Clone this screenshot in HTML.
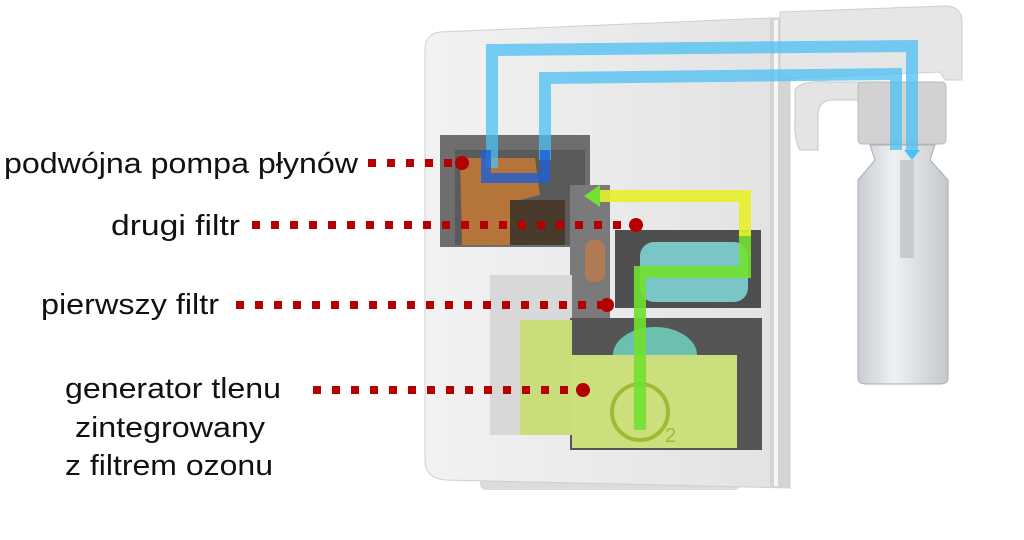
<!DOCTYPE html>
<html><head><meta charset="utf-8"><style>
html,body{margin:0;padding:0;background:#fff;}
svg{display:block;}
text{font-family:"Liberation Sans",sans-serif;fill:#111;}
</style></head><body>
<svg width="1024" height="540" viewBox="0 0 1024 540" xmlns="http://www.w3.org/2000/svg">
<defs>
<linearGradient id="body" x1="0" x2="1"><stop offset="0" stop-color="#f2f2f2"/><stop offset="1" stop-color="#e2e2e2"/></linearGradient>
<linearGradient id="bottle" x1="0" x2="1"><stop offset="0" stop-color="#c9cdd2"/><stop offset="0.4" stop-color="#eef0f2"/><stop offset="1" stop-color="#c4c8cc"/></linearGradient>
</defs>
<rect x="480" y="470" width="260" height="20" rx="6" fill="#dcdcdc"/>
<path d="M440 32 L770 18 L790 18 L790 488 L445 480 Q425 478 425 460 L425 50 Q425 34 440 32 Z" fill="url(#body)" stroke="#cfcfcf"/>
<rect x="770" y="18" width="20" height="470" fill="#d4d4d4"/>
<rect x="774" y="20" width="4" height="466" fill="#f7f7f7"/>
<path d="M780 12 L945 6 Q962 6 962 22 L962 80 L945 80 L940 72 L800 78 L780 80 Z" fill="#e6e6e6" stroke="#cfcfcf"/>
<path d="M795 90 Q800 80 830 82 L860 82 L860 100 L830 100 Q818 102 818 115 L818 150 L800 150 Q794 140 795 120 Z" fill="#e4e4e4" stroke="#c8c8c8"/>
<rect x="858" y="82" width="88" height="62" rx="4" fill="#d2d2d2" stroke="#bbb"/>
<path d="M870 145 L935 145 L930 160 L948 180 L948 378 Q948 384 940 384 L866 384 Q858 384 858 378 L858 180 L875 160 Z" fill="url(#bottle)" stroke="#a8acb0"/>
<rect x="900" y="160" width="14" height="98" fill="#c0c4c8" opacity="0.8"/>
<rect x="440" y="135" width="150" height="112" fill="#6e6e6e"/>
<rect x="455" y="150" width="130" height="95" fill="#5a5a5a"/>
<path d="M460 158 L535 158 L540 195 L520 200 L520 245 L462 245 Z" fill="#b5743a"/>
<rect x="510" y="200" width="55" height="45" fill="#4a3a2c"/>
<rect x="570" y="185" width="40" height="140" fill="#7a7a7a"/>
<rect x="585" y="240" width="20" height="42" rx="8" fill="#b07a55"/>
<rect x="615" y="230" width="146" height="78" fill="#4f4f4f"/>
<rect x="640" y="242" width="108" height="60" rx="14" fill="#7ac6c6"/>
<rect x="490" y="275" width="82" height="160" fill="#d8d8d8"/>
<rect x="570" y="318" width="192" height="132" fill="#555"/>
<ellipse cx="655" cy="355" rx="42" ry="28" fill="#6cc0b0"/>
<rect x="520" y="320" width="52" height="115" fill="#c9dd7a"/>
<rect x="572" y="355" width="165" height="93" fill="#cbe07c"/>
<circle cx="640" cy="412" r="28" fill="none" stroke="#a4b838" stroke-width="4"/>
<text x="665" y="442" font-size="20" style="fill:#a4b838">2</text>
<g fill="none" stroke="#4cc0f4" stroke-width="12" opacity="0.75" stroke-linejoin="miter">
<path d="M492 168 L492 50 L912 46 L912 150"/>
<path d="M545 160 L545 78 L896 74 L896 150"/>
</g>
<path d="M486 150 L486 178 L545 178 L545 150" fill="none" stroke="#1f5fd8" stroke-width="10" opacity="0.8"/>
<polygon points="904,150 920,150 912,160" fill="#4cc0f4"/>
<path d="M640 430 L640 272 L745 272 L745 232" fill="none" stroke="#72e030" stroke-width="12" opacity="0.9"/>
<path d="M745 236 L745 196 L598 196" fill="none" stroke="#e6f028" stroke-width="12" opacity="0.9"/>
<polygon points="600,185 600,207 584,196" fill="#72e030"/>
<g stroke="#b40000" stroke-width="8" stroke-dasharray="8 11" fill="none">
<line x1="368" y1="163" x2="458" y2="163"/>
<line x1="252" y1="225" x2="628" y2="225"/>
<line x1="236" y1="305" x2="603" y2="305"/>
<line x1="313" y1="390" x2="580" y2="390"/>
</g>
<g fill="#b40000">
<circle cx="462" cy="163" r="7"/><circle cx="636" cy="225" r="7"/>
<circle cx="607" cy="305" r="7"/><circle cx="583" cy="390" r="7"/>
</g>
<g font-size="29">
<text x="4" y="173" textLength="354" lengthAdjust="spacingAndGlyphs">podwójna pompa płynów</text>
<text x="111" y="235" textLength="129" lengthAdjust="spacingAndGlyphs">drugi filtr</text>
<text x="41" y="314" textLength="178" lengthAdjust="spacingAndGlyphs">pierwszy filtr</text>
<text x="65" y="398" textLength="216" lengthAdjust="spacingAndGlyphs">generator tlenu</text>
<text x="75" y="437" textLength="190" lengthAdjust="spacingAndGlyphs">zintegrowany</text>
<text x="65" y="475" textLength="208" lengthAdjust="spacingAndGlyphs">z filtrem ozonu</text>
</g>
</svg>
</body></html>
